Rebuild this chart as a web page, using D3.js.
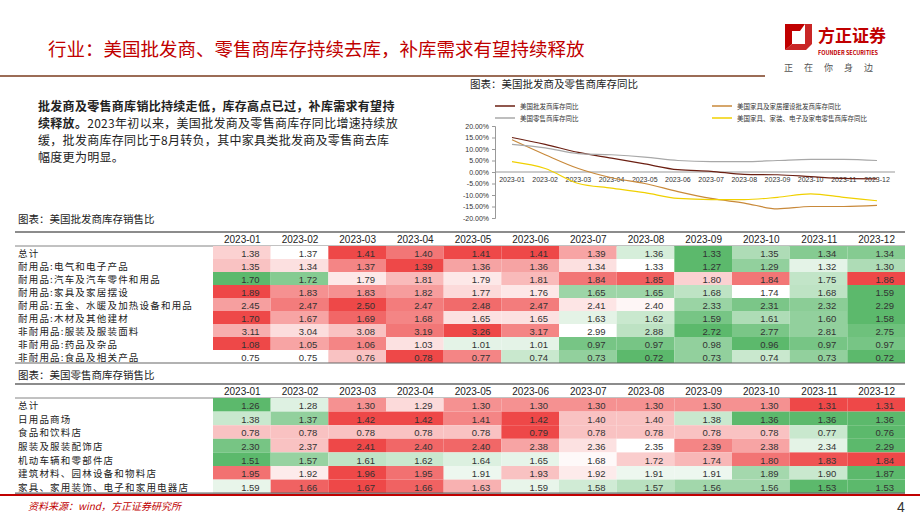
<!DOCTYPE html>
<html>
<head>
<meta charset="utf-8">
<script src="https://d3js.org/d3.v7.min.js"></script>
<style>
body{margin:0;background:#fff;font-family:"Noto Sans CJK SC","Noto Sans",sans-serif;}
svg text{font-family:"Noto Sans CJK SC","Noto Sans",sans-serif;}
svg text.num{font-family:"Liberation Sans",Arial,sans-serif;}
</style>
</head>
<body>
<svg id="c" width="920" height="518"></svg>
<script>
var months = ["2023-01","2023-02","2023-03","2023-04","2023-05","2023-06","2023-07","2023-08","2023-09","2023-10","2023-11","2023-12"];

// line chart, YoY %
var lineNames = ["美国批发商库存同比","美国家具及家居摆设批发商库存同比","美国零售商库存同比","美国家具、家装、电子及家电零售商库存同比"];
var wholesaleYoY = [15,12,8.5,6,3.5,1,0.3,-1,-1.2,-2,-2.8,-3];
var furnWholesaleYoY = [14,7.5,1.5,-2.5,-5,-8.5,-11.5,-13.5,-16,-15,-15,-14.5];
var retailYoY = [12,10.5,8,7.5,6.5,5,4.5,4.5,5,5.5,5.5,5];
var furnRetailYoY = [4.5,1.5,-5,-7,-9,-11.5,-12,-12,-11,-9.5,-11,-12.5];
var yTicks = [20,15,10,5,0,-5,-10,-15,-20];

// wholesale inventory/sales ratio
var wsRows = ["总计","耐用品:电气和电子产品","耐用品:汽车及汽车零件和用品","耐用品:家具及家居摆设","耐用品:五金、水暖及加热设备和用品","耐用品:木材及其他建材","非耐用品:服装及服装面料","非耐用品:药品及杂品","非耐用品:食品及相关产品"];
var wsVals = [
 [1.38,1.37,1.41,1.40,1.41,1.41,1.39,1.36,1.33,1.35,1.34,1.34],
 [1.35,1.34,1.37,1.39,1.36,1.36,1.34,1.33,1.27,1.29,1.32,1.30],
 [1.70,1.72,1.79,1.81,1.79,1.81,1.84,1.85,1.80,1.84,1.75,1.86],
 [1.89,1.83,1.83,1.82,1.77,1.76,1.65,1.65,1.68,1.74,1.68,1.59],
 [2.45,2.47,2.50,2.47,2.48,2.47,2.41,2.40,2.33,2.31,2.32,2.29],
 [1.70,1.67,1.69,1.68,1.65,1.65,1.63,1.62,1.59,1.61,1.60,1.58],
 [3.11,3.04,3.08,3.19,3.26,3.17,2.99,2.88,2.72,2.77,2.81,2.75],
 [1.08,1.05,1.06,1.03,1.01,1.01,0.97,0.97,0.98,0.96,0.97,0.97],
 [0.75,0.75,0.76,0.78,0.77,0.74,0.73,0.72,0.73,0.74,0.73,0.72]];

// retail inventory/sales ratio
var rtRows = ["总计","日用品商场","食品和饮料店","服装及服装配饰店","机动车辆和零部件店","建筑材料、园林设备和物料店","家具、家用装饰、电子和家用电器店"];
var rtVals = [
 [1.26,1.28,1.30,1.29,1.30,1.30,1.30,1.30,1.30,1.30,1.31,1.31],
 [1.38,1.37,1.42,1.42,1.41,1.42,1.40,1.40,1.38,1.36,1.36,1.36],
 [0.78,0.78,0.78,0.78,0.78,0.79,0.78,0.78,0.78,0.78,0.77,0.76],
 [2.30,2.37,2.41,2.40,2.40,2.38,2.36,2.35,2.39,2.38,2.34,2.29],
 [1.51,1.57,1.61,1.62,1.64,1.65,1.68,1.72,1.74,1.80,1.83,1.84],
 [1.95,1.92,1.96,1.95,1.91,1.93,1.92,1.91,1.91,1.89,1.90,1.87],
 [1.59,1.66,1.67,1.66,1.63,1.59,1.58,1.57,1.56,1.56,1.53,1.53]];

var svg = d3.select("#c");
var red = "#c00000";

// header
svg.append("text").attr("x",48).attr("y",56).attr("fill",red).attr("font-size",18.5)
  .text("行业：美国批发商、零售商库存持续去库，补库需求有望持续释放");
svg.append("line").attr("x1",0).attr("x2",765).attr("y1",76).attr("y2",76).attr("stroke","#7a3b1e").attr("stroke-width",1.5);
// logo
svg.append("path").attr("d","M785,24 L805,24 L800,31 L792,31 L792,44 L785,50 Z").attr("fill",red);
svg.append("path").attr("d","M805,24 L812,24 L812,44 L806,50 L785,50 L792,44 L805,44 Z").attr("fill",red).attr("opacity",0.85);
svg.append("text").attr("x",818).attr("y",42).attr("fill",red).attr("font-size",17).attr("font-weight","bold").text("方正证券");
svg.append("text").attr("x",818).attr("y",55).attr("fill",red).attr("font-size",5.5).attr("font-weight","bold").text("FOUNDER SECURITIES");
svg.append("text").attr("x",784).attr("y",71).attr("fill","#555").attr("font-size",9).attr("letter-spacing","11px").text("正在你身边");

// left paragraph
var lines = [[["批发商及零售商库销比持续走低，库存高点已过，补库需求有望持",true]],
  [["续释放。",true],["2023年初以来，美国批发商及零售商库存同比增速持续放",false]],
  [["缓，批发商库存同比于8月转负，其中家具类批发商及零售商去库",false]],
  [["幅度更为明显。",false]]];
lines.forEach(function(l,i){
  var t = svg.append("text").attr("x",38).attr("y",111+i*17).attr("font-size",12).attr("letter-spacing","0.3px").attr("fill","#222");
  l.forEach(function(s){ t.append("tspan").attr("font-weight",s[1]?"bold":"normal").text(s[0]); });
});

// line chart
svg.append("text").attr("x",470).attr("y",88).attr("font-size",10.5).attr("fill","#222").text("图表：美国批发商及零售商库存同比");
var x = d3.scalePoint().domain(months).range([512,877]);
var y = d3.scaleLinear().domain([-20,20]).range([218,126]);
var seriesCols = ["#6b1f12","#c8893a","#a8a8a8","#f0d000"];
var seriesData = [wholesaleYoY,furnWholesaleYoY,retailYoY,furnRetailYoY];
var lg = svg.append("g");
[[495,106],[712,106],[495,118],[712,118]].forEach(function(p,i){
  lg.append("line").attr("x1",p[0]).attr("x2",p[0]+20).attr("y1",p[1]).attr("y2",p[1]).attr("stroke",seriesCols[i]).attr("stroke-width",1.5);
  lg.append("text").attr("x",p[0]+25).attr("y",p[1]+3).attr("font-size",6.5).attr("fill","#333").text(lineNames[i]);
});
var ya = svg.append("g").attr("transform","translate(495,0)")
  .call(d3.axisLeft(y).tickValues(yTicks).tickSize(3).tickFormat(function(d){return d.toFixed(2)+"%";}));
ya.selectAll("text").attr("font-size",7).attr("class","num").attr("fill","#333");
ya.select(".domain").attr("stroke","#999");
ya.selectAll(".tick line").attr("stroke","#999");
svg.append("line").attr("x1",495).attr("x2",895).attr("y1",y(0)).attr("y2",y(0)).attr("stroke","#999");
months.forEach(function(m){
  svg.append("text").attr("class","num").attr("x",x(m)).attr("y",y(0)+10).attr("text-anchor","middle").attr("font-size",7).attr("fill","#333").text(m);
});
var lineGen = d3.line().x(function(d,i){return x(months[i]);}).y(function(d){return y(d);}).curve(d3.curveMonotoneX);
seriesData.forEach(function(s,i){
  svg.append("path").attr("d",lineGen(s)).attr("fill","none").attr("stroke",seriesCols[i]).attr("stroke-width",1.2);
});

// tables
function heat(row){
  var mn=d3.min(row), mx=d3.max(row), md=(mn+mx)/2;
  return d3.scaleLinear().domain([mn,md,mx]).range(["#5cb96c","#ffffff","#ee4848"]);
}
function table(title, rows, vals, ty, top, rh){
  svg.append("text").attr("x",18).attr("y",ty).attr("font-size",10.5).attr("fill","#222").text(title);
  svg.append("line").attr("x1",15).attr("x2",905).attr("y1",top).attr("y2",top).attr("stroke","#666").attr("stroke-width",1.5);
  var cx = d3.scaleBand().domain(months).range([213,905]);
  months.forEach(function(m){
    svg.append("text").attr("class","num").attr("x",cx(m)+cx.bandwidth()-10).attr("y",top+11).attr("text-anchor","end").attr("font-size",10).attr("fill","#222").text(m);
  });
  var y0 = top+14;
  svg.append("line").attr("x1",15).attr("x2",905).attr("y1",y0).attr("y2",y0).attr("stroke","#666").attr("stroke-width",0.8);
  rows.forEach(function(r,i){
    var yy = y0+i*rh, c = heat(vals[i]);
    svg.append("text").attr("x",18).attr("y",yy+rh-2.5).attr("font-size",9.5).attr("letter-spacing","1.2px").attr("fill","#222").text(r);
    vals[i].forEach(function(v,j){
      svg.append("rect").attr("x",cx(months[j])).attr("y",yy).attr("width",cx.bandwidth()).attr("height",rh).attr("fill",c(v));
      svg.append("text").attr("class","num").attr("x",cx(months[j])+cx.bandwidth()-11).attr("y",yy+rh-2.5).attr("text-anchor","end").attr("font-size",9.5).attr("fill","#333").text(v.toFixed(2));
    });
  });
  svg.append("line").attr("x1",15).attr("x2",905).attr("y1",y0+rows.length*rh).attr("y2",y0+rows.length*rh).attr("stroke","#666").attr("stroke-width",1.2);
}
table("图表：美国批发商库存销售比", wsRows, wsVals, 223, 232, 13);
table("图表：美国零售商库存销售比", rtRows, rtVals, 379, 384, 13.6);

// footer
svg.append("rect").attr("x",0).attr("y",494).attr("width",920).attr("height",2).attr("fill",red);
svg.append("text").attr("x",28).attr("y",510).attr("font-size",10).attr("font-style","italic").attr("fill",red).text("资料来源：wind，方正证券研究所");
svg.append("text").attr("class","num").attr("x",897).attr("y",512).attr("font-size",14).attr("fill","#333").text("4");
</script>
</body>
</html>
